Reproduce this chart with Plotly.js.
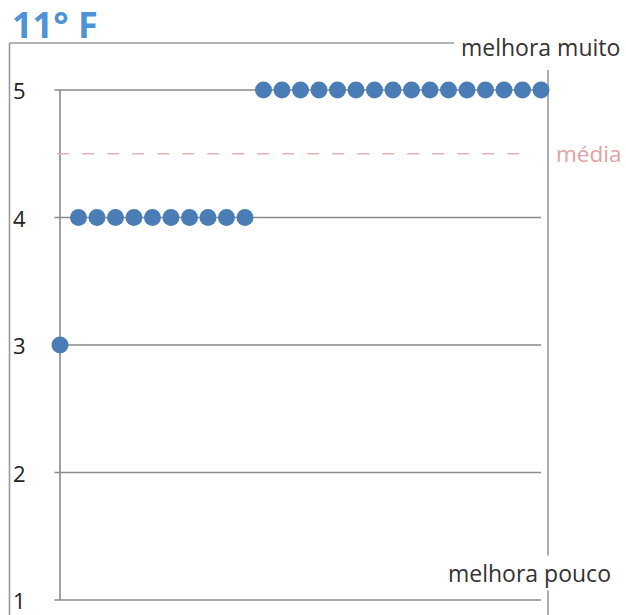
<!DOCTYPE html>
<html>
<head>
<meta charset="utf-8">
<script src="https://cdn.plot.ly/plotly-3.0.1.min.js"></script>
<style>html,body{margin:0;padding:0;background:#fff;}#chart{width:626px;height:615px;}</style>
</head>
<body>
<div id="chart"></div>
<script>
// ---- data ----
const respostas = [3, 4, 4, 4, 4, 4, 4, 4, 4, 4, 4, 5, 5, 5, 5, 5, 5, 5, 5, 5, 5, 5, 5, 5, 5, 5, 5];
const yTicks = [1, 2, 3, 4, 5];
const yTickLabels = ["1", "2", "3", "4", "5"];
const mediaValor = 4.5;
const tituloTexto = "11° F";
const rotuloTopo = "melhora muito";
const rotuloBase = "melhora pouco";
const rotuloMedia = "média";

// ---- layout geometry ----
const W = 626, H = 615;
const x0px = 60, pxPerX = 18.5;
const y5px = 90, pxPerY = 127.5;
const xRange = [-x0px / pxPerX, (W - x0px) / pxPerX];
const yRange = [5 - (H - y5px) / pxPerY, 5 + y5px / pxPerY];
const px = v => v / W;
const py = v => 1 - v / H;

const xIdx = respostas.map((_, i) => i);
const lastX = xIdx[xIdx.length - 1];

const gridColor = '#8a8a8a';
const frameColor = '#9a9a9a';
const font = '"Open Sans", "Noto Sans", sans-serif';

const shapes = [];
// horizontal grid lines
yTicks.forEach(v => shapes.push({type: 'line', xref: 'x', yref: 'y', x0: -0.3, x1: lastX, y0: v, y1: v,
  line: {color: gridColor, width: 1.6}, layer: 'below'}));
// vertical axis line
shapes.push({type: 'line', xref: 'x', yref: 'y', x0: 0, x1: 0, y0: yTicks[0], y1: yTicks[yTicks.length - 1],
  line: {color: gridColor, width: 1.6}, layer: 'below'});
// right vertical line
shapes.push({type: 'line', xref: 'paper', yref: 'paper', x0: px(548), x1: px(548), y0: py(70), y1: py(615),
  line: {color: frameColor, width: 1.6}, layer: 'below'});
// outer frame: left and top
shapes.push({type: 'line', xref: 'paper', yref: 'paper', x0: px(9.5), x1: px(9.5), y0: py(43), y1: py(616),
  line: {color: frameColor, width: 1.6}, layer: 'below'});
shapes.push({type: 'line', xref: 'paper', yref: 'paper', x0: px(9.5), x1: px(454), y0: py(43), y1: py(43),
  line: {color: frameColor, width: 1.6}, layer: 'below'});
// média dashed line
shapes.push({type: 'line', xref: 'x', yref: 'y', x0: -0.15, x1: 25.3, y0: mediaValor, y1: mediaValor,
  line: {color: '#e6b3b3', width: 1.6, dash: '12px,13px'}, layer: 'below'});

const annotations = [];
yTicks.forEach((v, i) => annotations.push({xref: 'paper', yref: 'y', x: px(11), y: v, xanchor: 'left', yanchor: 'middle',
  text: yTickLabels[i], showarrow: false, font: {family: font, size: 22, color: '#222'}}));
annotations.push({xref: 'paper', yref: 'paper', x: px(459), y: py(47), xanchor: 'left', yanchor: 'middle',
  text: rotuloTopo, showarrow: false, font: {family: font, size: 23, color: '#333'}});
annotations.push({xref: 'paper', yref: 'y', x: px(554), y: mediaValor, xanchor: 'left', yanchor: 'middle',
  text: rotuloMedia, showarrow: false, bgcolor: '#fff', font: {family: font, size: 22.5, color: '#e0a3a3'}});
annotations.push({xref: 'paper', yref: 'paper', x: px(446), y: py(573), xanchor: 'left', yanchor: 'middle',
  text: rotuloBase, showarrow: false, bgcolor: '#fff', font: {family: font, size: 23, color: '#333'}});

const trace = {
  type: 'scatter', mode: 'markers', x: xIdx, y: respostas, cliponaxis: false, hoverinfo: 'skip',
  marker: {size: 17, color: '#4a7db5', line: {width: 0}}
};

const layout = {
  width: W, height: H,
  margin: {l: 0, r: 0, t: 0, b: 0, pad: 0},
  paper_bgcolor: '#fff', plot_bgcolor: '#fff',
  showlegend: false,
  title: {text: '<b>' + tituloTexto + '</b>', xref: 'container', yref: 'container', x: 12 / W, xanchor: 'left',
    y: 1 - 25 / H, yanchor: 'middle', font: {family: font, size: 36, color: '#4f93d6'}},
  xaxis: {range: xRange, visible: false, fixedrange: true},
  yaxis: {range: yRange, visible: false, fixedrange: true},
  shapes: shapes,
  annotations: annotations
};

Plotly.newPlot('chart', [trace], layout, {staticPlot: true});
</script>
</body>
</html>
